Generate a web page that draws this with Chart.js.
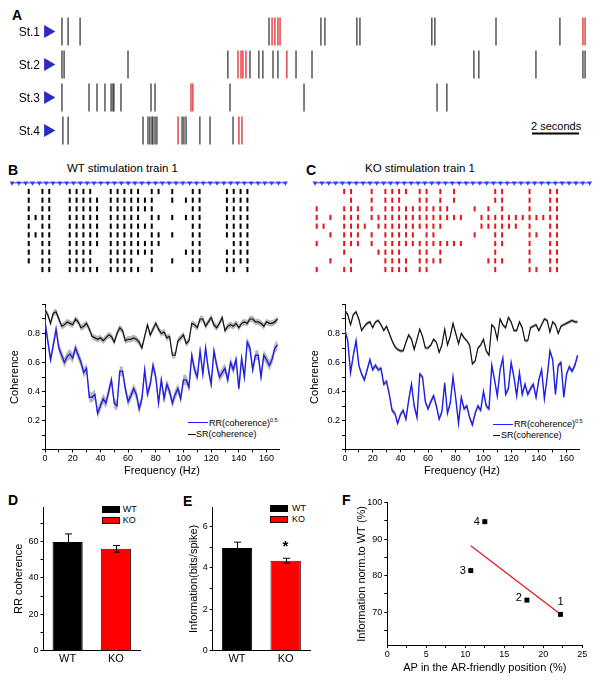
<!DOCTYPE html>
<html><head><meta charset="utf-8">
<script src="https://cdn.jsdelivr.net/npm/chart.js@4.4.1/dist/chart.umd.min.js"></script>
<style>
html,body{margin:0;padding:0;background:#fff;}
body{position:relative;width:601px;height:682px;overflow:hidden;font-family:"Liberation Sans",Arial,Helvetica,sans-serif;color:#000;}
canvas{position:absolute;}
.t{position:absolute;white-space:nowrap;line-height:1;}
.p{position:absolute;font-weight:bold;font-size:14px;line-height:1;}
.ln{position:absolute;height:0;}
.box{position:absolute;box-sizing:border-box;}
.st{position:absolute;width:40px;left:0;text-align:right;font-size:12px;line-height:1;white-space:nowrap;}
sup{font-size:5.5px;vertical-align:0;position:relative;top:-4px;}
</style></head><body>
<div class="p" style="left:12px;top:8px">A</div>
<div class="p" style="left:8px;top:163px">B</div>
<div class="p" style="left:306px;top:163px">C</div>
<div class="p" style="left:8px;top:493px">D</div>
<div class="p" style="left:183px;top:494px">E</div>
<div class="p" style="left:342px;top:493px">F</div>
<div class="t" style="left:67px;top:163px;font-size:11.5px">WT stimulation train 1</div>
<div class="t" style="left:365px;top:163px;font-size:11.5px">KO stimulation train 1</div>
<div class="t" style="left:531px;top:121px;font-size:11px">2 seconds</div>

<div class="ln" style="left:188px;top:422.3px;width:20px;border-top:1.5px solid #1d1dff"></div>
<div class="t" style="left:209px;top:419px;font-size:9px">RR(coherence)<sup>0.5</sup></div>
<div class="ln" style="left:188px;top:433.5px;width:8px;border-top:1.5px solid #111"></div>
<div class="t" style="left:196px;top:430px;font-size:9px">SR(coherence)</div>

<div class="ln" style="left:493px;top:423.5px;width:20px;border-top:1.5px solid #1d1dff"></div>
<div class="t" style="left:514px;top:420px;font-size:9px">RR(coherence)<sup>0.5</sup></div>
<div class="ln" style="left:493px;top:435px;width:7px;border-top:1.5px solid #111"></div>
<div class="t" style="left:501px;top:431.3px;font-size:9px">SR(coherence)</div>

<div class="box" style="left:101.7px;top:506px;width:18.3px;height:7.3px;background:#000"></div>
<div class="box" style="left:101.7px;top:517.3px;width:18.3px;height:6.7px;background:#f00;border:1px solid #300"></div>
<div class="t" style="left:122.7px;top:505.3px;font-size:9px">WT</div>
<div class="t" style="left:122.7px;top:516.3px;font-size:9px">KO</div>

<div class="box" style="left:270px;top:505px;width:18.3px;height:6.5px;background:#000"></div>
<div class="box" style="left:270px;top:516px;width:18.3px;height:6.5px;background:#f00;border:1px solid #300"></div>
<div class="t" style="left:292px;top:504px;font-size:9px">WT</div>
<div class="t" style="left:292px;top:515px;font-size:9px">KO</div>

<script>
// ---------------- DATA ----------------
// Panel A: spike times (s) per station
const stationLabels = ['St.1','St.2','St.3','St.4'];
const spikesBlack = [
  [0.00,0.26,0.77,8.81,11.02,11.19,12.55,12.68,15.74,15.87,18.47,21.19],
  [0.00,0.09,2.81,7.06,8.00,8.38,8.55,8.98,9.19,9.96,10.64,17.53,17.74,20.17,22.17,22.26],
  [0.00,1.15,1.49,1.83,2.09,2.17,2.21,2.51,3.79,3.96,7.15,10.30,15.96,16.38],
  [0.04,0.26,3.45,3.66,3.74,3.83,3.87,3.96,4.04,5.11,5.19,5.28,5.87,6.30,7.28]
];
const spikesRed = [
  [8.94,9.06,9.19,9.28,22.17,22.26],
  [7.49,7.62,7.70,7.83,9.57],
  [5.49,5.57],
  [4.94,7.53,7.66]
];
const scaleBarSeconds = 2;

// Panels B/C: stimulation pulses and responding pulse indices per trial
const stimPulses = [0,1,2,3,4,5,6,7,8,9,10,11,12,13,14,15,16,17,18,19,20,21,22,23,24,25,26,27,28,29,30,31,32,33,34,35,36,37,38,39,40];
const wtTrials = [
  [2,4,5,8,9,10,11,14,15,16,17,18,20,21,23,26,27,31,32,33,34],
  [2,4,5,8,9,10,11,12,14,15,16,17,18,19,20,23,25,26,27,31,32,33,34],
  [2,4,5,8,9,10,11,12,14,15,16,17,18,19,20,26,27,31,32,33,34],
  [2,3,4,5,8,9,10,11,12,14,15,16,17,18,20,21,23,25,26,27,31,32,33,34],
  [2,4,5,8,9,10,11,12,14,15,16,17,18,19,20,26,27,31,32,33,34],
  [2,3,4,5,8,9,10,11,12,14,15,16,17,18,20,21,23,26,27,31,32,33,34],
  [2,4,5,8,9,10,11,12,14,15,16,17,18,19,20,21,26,27,32,33,34],
  [2,4,5,8,9,10,11,14,15,16,17,18,19,20,25,26,27,31,32,33,34],
  [2,4,5,8,9,10,11,14,15,16,17,20,23,26,27,31,32,33,34],
  [4,5,8,9,10,11,12,14,15,16,17,18,20,26,27,31,32,34]
];
const koTrials = [
  [4,5,8,10,11,12,13,15,16,18,20,26,27,31,34,35],
  [5,8,10,11,12,15,16,18,20,26,27,31,34,35],
  [0,4,5,6,8,10,11,12,13,14,15,16,17,18,19,23,25,27,31,34,35],
  [0,2,4,5,6,8,9,10,11,12,13,14,15,16,17,18,19,20,21,24,25,26,27,28,29,30,31,32,33,34,35],
  [0,1,4,5,6,7,9,10,11,12,13,14,15,16,17,18,24,25,26,27,28,29,31,34,35],
  [2,4,5,6,8,10,11,12,13,14,16,17,23,26,27,31,32,34,35],
  [0,4,5,6,8,10,11,12,13,14,15,16,17,18,19,20,21,26,27,31,34,35],
  [4,9,10,11,12,15,16,18,26,31,34,35],
  [2,5,10,11,12,13,15,16,17,18,25,26,27,31,34,35],
  [0,4,5,10,11,12,13,15,16,26,31,32,34,35]
];
const wtLatency = 0.45, koLatency = 0.25; // spike latency (pulse periods)

// Coherence spectra
const freqs = [0,2,4,6,8,10,12,14,16,18,20,22,24,26,28,30,32,34,36,38,40,42,44,46,48,50,52,54,56,58,60,62,64,66,68,70,72,74,76,78,80,82,84,86,88,90,92,94,96,98,100,102,104,106,108,110,112,114,116,118,120,122,124,126,128,130,132,134,136,138,140,142,144,146,148,150,152,154,156,158,160,162,164,166,168];
const wtRR = [0.88,0.75,0.62,0.72,0.83,0.70,0.65,0.60,0.64,0.66,
  0.63,0.70,0.65,0.60,0.53,0.56,0.36,0.36,0.38,0.25,
  0.30,0.35,0.32,0.40,0.48,0.32,0.30,0.54,0.54,0.42,
  0.33,0.37,0.42,0.38,0.28,0.35,0.55,0.38,0.45,0.58,
  0.50,0.32,0.48,0.35,0.45,0.40,0.32,0.38,0.42,0.35,
  0.48,0.48,0.43,0.65,0.55,0.50,0.68,0.52,0.70,0.55,
  0.45,0.68,0.58,0.50,0.53,0.56,0.48,0.60,0.55,0.62,
  0.42,0.63,0.50,0.74,0.70,0.55,0.65,0.65,0.50,0.65,
  0.62,0.58,0.62,0.70,0.72];
const wtSR = [0.96,0.93,0.87,0.94,0.95,0.90,0.85,0.86,0.88,0.87,
  0.86,0.90,0.88,0.84,0.85,0.87,0.83,0.78,0.77,0.76,
  0.77,0.75,0.77,0.79,0.78,0.74,0.80,0.84,0.82,0.75,
  0.76,0.76,0.77,0.76,0.74,0.70,0.78,0.86,0.79,0.83,
  0.87,0.83,0.80,0.81,0.77,0.78,0.65,0.65,0.75,0.77,
  0.79,0.73,0.75,0.87,0.86,0.84,0.90,0.90,0.85,0.88,
  0.91,0.86,0.84,0.87,0.91,0.82,0.85,0.86,0.85,0.87,
  0.84,0.87,0.88,0.87,0.90,0.90,0.88,0.88,0.87,0.85,
  0.88,0.87,0.87,0.88,0.90];
const koRR = [0.82,0.75,0.53,0.65,0.75,0.58,0.52,0.48,0.55,0.62,
  0.55,0.58,0.55,0.56,0.45,0.47,0.38,0.27,0.25,0.18,
  0.24,0.27,0.21,0.34,0.45,0.30,0.22,0.52,0.50,0.33,
  0.28,0.33,0.37,0.30,0.21,0.26,0.46,0.25,0.32,0.50,
  0.35,0.18,0.36,0.28,0.30,0.22,0.17,0.25,0.30,0.27,
  0.40,0.30,0.28,0.58,0.48,0.37,0.55,0.63,0.38,0.42,
  0.60,0.50,0.37,0.53,0.38,0.45,0.38,0.42,0.45,0.36,
  0.48,0.55,0.35,0.50,0.68,0.62,0.38,0.58,0.60,0.36,
  0.52,0.57,0.54,0.58,0.65];
const koSR = [0.96,0.93,0.86,0.93,0.95,0.90,0.82,0.85,0.87,0.88,
  0.84,0.88,0.89,0.86,0.82,0.85,0.80,0.75,0.71,0.69,
  0.68,0.68,0.74,0.79,0.76,0.69,0.76,0.83,0.78,0.70,
  0.70,0.72,0.76,0.74,0.67,0.72,0.83,0.72,0.78,0.87,
  0.80,0.73,0.80,0.77,0.75,0.72,0.59,0.61,0.70,0.72,
  0.76,0.68,0.65,0.86,0.84,0.76,0.90,0.86,0.84,0.91,
  0.88,0.82,0.82,0.88,0.84,0.75,0.75,0.84,0.85,0.86,
  0.82,0.86,0.90,0.89,0.81,0.88,0.86,0.80,0.85,0.86,
  0.87,0.88,0.89,0.88,0.88];
const wtRRsem = 0.035, wtSRsem = 0.022, koRRsem = 0.018, koSRsem = 0.012;

// Panels D/E
const groups = ['WT','KO'];
const rrCoherence = [59.8, 56.0];
const rrCoherenceErr = [4.4, 1.8];
const information = [4.97, 4.35];
const informationErr = [0.28, 0.12];
const informationSig = ['', '*'];

// Panel F
const apFriendly = [22.2, 17.9, 10.7, 12.5];
const infoNormWT = [69.4, 73.3, 81.4, 94.8];
const trainLabels = ['1','2','3','4'];
const fitX = [10.7, 22.2];
const fitY = [88.2, 69.4];

// ---------------- SETUP ----------------
Chart.defaults.font.family = '"Liberation Sans", Arial, Helvetica, sans-serif';
Chart.defaults.color = '#000';
Chart.defaults.animation = false;
Chart.defaults.responsive = false;
Chart.defaults.events = [];
Chart.defaults.layout.autoPadding = false;
Chart.defaults.plugins.legend.display = false;
Chart.defaults.plugins.tooltip.enabled = false;

function mk(left, top, w, h) {
  const c = document.createElement('canvas');
  c.width = w; c.height = h;
  c.style.left = left + 'px'; c.style.top = top + 'px';
  c.style.width = w + 'px'; c.style.height = h + 'px';
  document.body.appendChild(c);
  return c;
}
const axisGrid = {display:true, drawOnChartArea:false, drawTicks:true, tickLength:3, color:'#000', lineWidth:1};
const axisBorder = {display:true, color:'#000', width:1};

// ---------------- PANEL A ----------------
(function(){
  const black = [], red = [];
  spikesBlack.forEach((row,i)=>row.forEach(t=>black.push({x:t,y:i+1})));
  spikesRed.forEach((row,i)=>row.forEach(t=>red.push({x:t,y:i+1})));
  const tri = stationLabels.map((s,i)=>({x:-0.6,y:i+1}));
  const barStart = 20.0;
  const chart = new Chart(mk(0,0,601,150), {
    type:'scatter',
    data:{datasets:[
      {data:black, pointStyle:'line', pointRotation:90, pointRadius:14, pointBorderColor:'#2a2a2a', pointBorderWidth:1.2, clip:false},
      {data:red, pointStyle:'line', pointRotation:90, pointRadius:14, pointBorderColor:'#e0282c', pointBorderWidth:1.3, clip:false},
      {data:tri, pointStyle:'triangle', pointRotation:90, pointRadius:7.5, pointBackgroundColor:'#2b2bc4', pointBorderColor:'#2b2bc4', pointBorderWidth:0, clip:false},
      {type:'line', data:[{x:barStart,y:4.09},{x:barStart+scaleBarSeconds,y:4.09}], borderColor:'#000', borderWidth:2, pointRadius:0, clip:false}
    ]},
    options:{
      layout:{autoPadding:false, padding:{top:15,bottom:3,left:42,right:11}},
      scales:{
        x:{type:'linear', display:false, min:-0.85, max:22.47},
        y:{type:'linear', display:false, reverse:true, min:0.5, max:4.5}
      }
    }
  });
  // station labels placed at the row positions given by the y scale
  stationLabels.forEach((s,i)=>{
    const d = document.createElement('div');
    d.className = 'st';
    d.textContent = s;
    d.style.top = (chart.scales.y.getPixelForValue(i+1) - 6) + 'px';
    document.body.appendChild(d);
  });
})();

// ---------------- PANELS B/C rasters ----------------
function raster(left, trials, color, latency, padL, padR){
  const spikes = [];
  trials.forEach((tr,i)=>tr.forEach(k=>spikes.push({x:k+latency,y:i+1})));
  const markers = stimPulses.map(k=>({x:k,y:0}));
  new Chart(mk(left,172,300,110), {
    type:'scatter',
    data:{datasets:[
      {data:spikes, pointStyle:'line', pointRotation:90, pointRadius:2.6, pointBorderColor:color, pointBorderWidth:2, clip:false},
      {type:'line', data:markers, borderColor:'#2a3cff', borderWidth:1, pointStyle:'triangle', pointRotation:180, pointRadius:2.8, pointBackgroundColor:'#2a3cff', pointBorderColor:'#2a3cff', pointBorderWidth:0, clip:false}
    ]},
    options:{
      layout:{autoPadding:false, padding:{left:padL,right:padR,top:5.63,bottom:7.27}},
      scales:{
        x:{type:'linear', display:false, min:-1, max:41},
        y:{type:'linear', display:false, reverse:true, min:-0.6, max:10.6}
      }
    }
  });
}
raster(0, wtTrials, '#000000', wtLatency, 5.17, 7.83);
raster(300, koTrials, '#e8141c', koLatency, 8.13, 3.5);

// ---------------- PANELS B/C coherence ----------------
function coherence(left, rr, rrSem, sr, srSem){
  const pts = (arr,d)=>freqs.map((f,i)=>({x:f,y:arr[i]+d}));
  const band = {borderWidth:1, borderColor:'rgba(0,0,0,0)', pointRadius:0};
  new Chart(mk(left,290,300,192), {
    type:'line',
    data:{datasets:[
      {data:pts(rr,0), borderColor:'#1f1fe8', borderWidth:1.4, pointRadius:0, fill:false},
      {data:pts(sr,0), borderColor:'#111', borderWidth:1.2, pointRadius:0, fill:false},
      Object.assign({data:pts(sr,srSem), fill:'+1', backgroundColor:'rgba(160,160,160,0.75)'}, band),
      Object.assign({data:pts(sr,-srSem), fill:false}, band),
      Object.assign({data:pts(rr,rrSem), fill:'+1', backgroundColor:'rgba(160,160,160,0.75)'}, band),
      Object.assign({data:pts(rr,-rrSem), fill:false}, band)
    ]},
    options:{
      layout:{autoPadding:false, padding:{top:14.5,right:21,left:0,bottom:0}},
      scales:{
        x:{type:'linear', min:0, max:169, afterFit:s=>{s.height=32.5;},
           ticks:{stepSize:10, includeBounds:false, autoSkip:false, maxRotation:0, font:{size:9}, padding:1,
                  callback:v=>(Math.round(v)%20===0?String(Math.round(v)):'')},
           grid:axisGrid, border:axisBorder,
           title:{display:true, text:'Frequency (Hz)', font:{size:11}, padding:{top:0,bottom:4.4}}},
        y:{type:'linear', min:0, max:1, afterFit:s=>{s.width=45;},
           ticks:{stepSize:0.1, autoSkip:false, font:{size:9}, padding:2,
                  callback:v=>{const r=Math.round(v*10);return (r===2||r===4||r===6||r===8)?(r/10).toFixed(1):'';}},
           grid:axisGrid, border:axisBorder,
           title:{display:true, text:'Coherence', font:{size:11}, padding:{top:8.4,bottom:0}}}
      }
    }
  });
}
coherence(0, wtRR, wtRRsem, wtSR, wtSRsem);
coherence(300, koRR, koRRsem, koSR, koSRsem);

// ---------------- PANELS D/E bars ----------------
const errorBarPlugin = {
  id:'errbars',
  afterDatasetsDraw(chart, args, o){
    if(!o || !o.errors) return;
    const meta = chart.getDatasetMeta(0), ys = chart.scales.y, ctx = chart.ctx;
    const vals = chart.data.datasets[0].data;
    ctx.save();
    ctx.strokeStyle = '#000'; ctx.lineWidth = 1;
    meta.data.forEach((bar,i)=>{
      const x = Math.round(bar.x)+0.5;
      const yt = ys.getPixelForValue(vals[i]+o.errors[i]);
      const yb = ys.getPixelForValue(vals[i]-o.errors[i]);
      ctx.beginPath();
      ctx.moveTo(x,yt); ctx.lineTo(x,yb);
      ctx.moveTo(x-3.5,yt); ctx.lineTo(x+3.5,yt);
      ctx.moveTo(x-3.5,yb); ctx.lineTo(x+3.5,yb);
      ctx.stroke();
      if(o.sig && o.sig[i]){
        ctx.fillStyle = '#000';
        ctx.font = 'bold 15px "Liberation Sans", Arial, sans-serif';
        ctx.textAlign = 'center'; ctx.textBaseline = 'middle';
        ctx.fillText(o.sig[i], x-1, yt-11);
      }
    });
    ctx.restore();
  }
};
function bars(left, values, errs, sig, yW, padR, ymax, titleText, titlePad, labelEvery){
  new Chart(mk(left,480,160,202), {
    type:'bar',
    data:{labels:groups, datasets:[{data:values,
      backgroundColor:['#000000','#ff0000'], borderColor:['#000000','#4a0808'], borderWidth:1,
      barPercentage:0.625, categoryPercentage:1}]},
    options:{
      layout:{autoPadding:false, padding:{top:27,right:padR,left:0,bottom:0}},
      plugins:{errbars:{errors:errs, sig:sig}},
      scales:{
        x:{afterFit:s=>{s.height=31.3;},
           grid:{display:true, drawOnChartArea:false, drawTicks:false, color:'rgba(0,0,0,0)'},
           border:axisBorder, ticks:{font:{size:11}, padding:2}},
        y:{min:0, max:ymax, afterFit:s=>{s.width=yW;},
           ticks:{stepSize:labelEvery/2, includeBounds:false, autoSkip:false, font:{size:9}, padding:2,
                  callback:v=>(Math.abs(v/labelEvery-Math.round(v/labelEvery))<1e-6?String(Math.round(v)):'')},
           grid:axisGrid, border:axisBorder,
           title:{display:true, text:titleText, font:{size:11}, padding:{top:titlePad,bottom:0}}}
      }
    },
    plugins:[errorBarPlugin]
  });
}
bars(0, rrCoherence, rrCoherenceErr, null, 43.5, 20, 79, 'RR coherence', 12.4, 20);
bars(160, information, informationErr, informationSig, 52.7, 10, 6.95, 'Information(bits/spike)', 27.4, 2);

// ---------------- PANEL F ----------------
const pointLabelPlugin = {
  id:'ptlabels',
  afterDatasetsDraw(chart){
    const meta = chart.getDatasetMeta(0), ctx = chart.ctx;
    ctx.save();
    ctx.fillStyle = '#000';
    ctx.font = '11px "Liberation Sans", Arial, sans-serif';
    ctx.textBaseline = 'middle';
    meta.data.forEach((p,i)=>{
      if(i===0){ ctx.textAlign='center'; ctx.fillText(trainLabels[i], p.x, p.y-12.5); }
      else { ctx.textAlign='right'; ctx.fillText(trainLabels[i], p.x-5, p.y-(i===1?2:0)); }
    });
    ctx.restore();
  }
};
new Chart(mk(300,480,301,202), {
  type:'scatter',
  data:{datasets:[
    {data:apFriendly.map((x,i)=>({x:x,y:infoNormWT[i]})), pointStyle:'rect', pointRadius:3.5,
     pointBackgroundColor:'#000', pointBorderColor:'#000', pointBorderWidth:0, clip:false},
    {type:'line', data:fitX.map((x,i)=>({x:x,y:fitY[i]})), borderColor:'#e8141c', borderWidth:1.2, pointRadius:0, clip:false}
  ]},
  options:{
    layout:{autoPadding:false, padding:{top:22.7,right:18.7,left:0,bottom:0}},
    scales:{
      x:{type:'linear', min:0, max:25, afterFit:s=>{s.height=37;},
         ticks:{stepSize:2.5, autoSkip:false, maxRotation:0, font:{size:9}, padding:1,
                callback:v=>(Math.abs(v%5)<1e-6?String(v):'')},
         grid:axisGrid, border:axisBorder,
         title:{display:true, text:'AP in the AR-friendly position (%)', font:{size:11}, padding:{top:0,bottom:7.4}}},
      y:{type:'linear', min:61, max:100, afterFit:s=>{s.width=87.3;},
         ticks:{stepSize:5, includeBounds:false, autoSkip:false, font:{size:9}, padding:2,
                callback:v=>(Math.abs(v%10)<1e-6?String(v):'')},
         grid:axisGrid, border:axisBorder,
         title:{display:true, text:'Information norm.to WT (%)', font:{size:11}, padding:{top:55.4,bottom:0}}}
    }
  },
  plugins:[pointLabelPlugin]
});
</script>
</body></html>
